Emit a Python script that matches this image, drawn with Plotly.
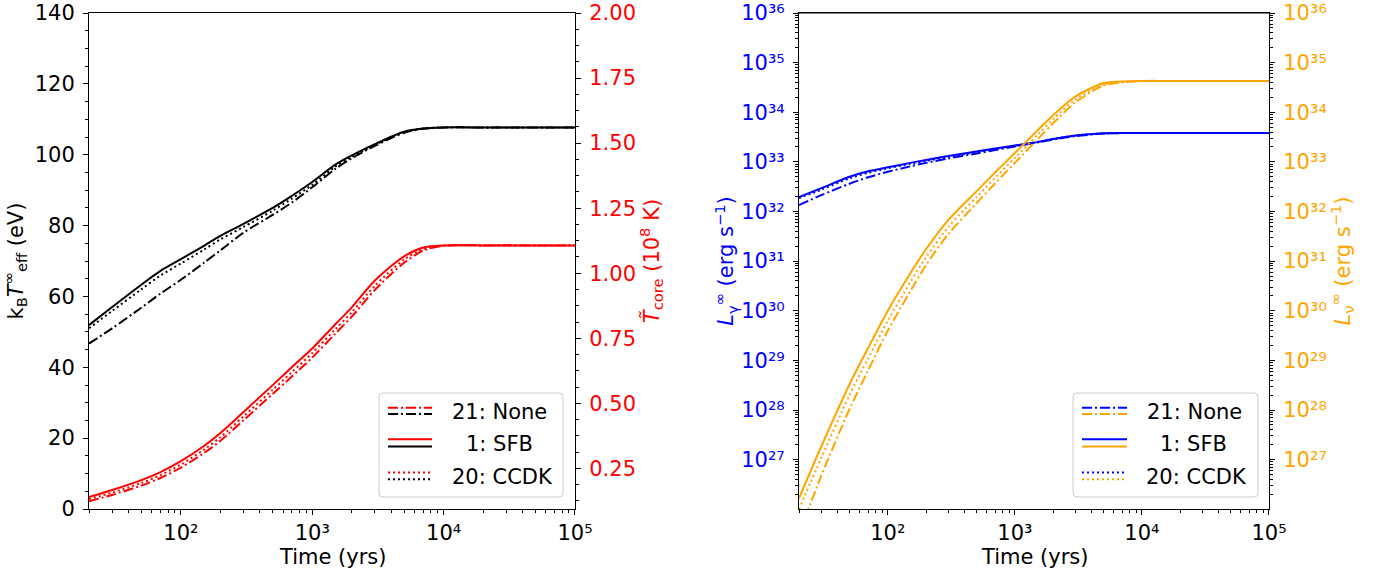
import plotly.graph_objects as go

# ---------------- data ----------------
time_yrs = [20, 30, 50, 70, 100, 150, 200, 300, 500, 700, 1000, 1500, 2000,
            3000, 5000, 7000, 10000, 20000, 50000, 100000]

# Left panel, left axis: k_B T_eff^inf (eV)
kTeff_none = [46.7, 51.0, 56.8, 60.8, 64.7, 69.5, 73.0, 78.0, 83.0, 86.5, 90.8,
              96.0, 99.0, 102.5, 106.2, 107.3, 107.7, 107.7, 107.7, 107.7]
kTeff_sfb = [51.9, 57.0, 63.3, 67.2, 70.5, 74.3, 77.1, 80.5, 85.0, 88.4, 92.3,
             97.2, 99.8, 103.0, 106.5, 107.4, 107.7, 107.7, 107.7, 107.7]
kTeff_ccdk = [51.0, 55.9, 62.0, 65.9, 69.3, 73.2, 76.1, 79.6, 84.2, 87.6, 91.5,
              96.6, 99.4, 102.8, 106.4, 107.4, 107.7, 107.7, 107.7, 107.7]

# Left panel, right axis: T_core (1e8 K)
Tcore_none = [0.124, 0.148, 0.184, 0.213, 0.253, 0.309, 0.356, 0.435, 0.536, 0.603,
              0.676, 0.768, 0.833, 0.936, 1.040, 1.087, 1.105, 1.107, 1.107, 1.107]
Tcore_sfb = [0.140, 0.167, 0.205, 0.236, 0.278, 0.336, 0.386, 0.467, 0.570, 0.639,
             0.711, 0.804, 0.869, 0.972, 1.065, 1.099, 1.107, 1.107, 1.107, 1.107]
Tcore_ccdk = [0.132, 0.157, 0.194, 0.224, 0.265, 0.322, 0.370, 0.450, 0.552, 0.620,
              0.693, 0.785, 0.850, 0.952, 1.052, 1.093, 1.106, 1.107, 1.107, 1.107]

# Right panel: log10 of luminosities (erg/s)
logLgamma_none = [32.13, 32.33, 32.56, 32.69, 32.80, 32.91, 32.98, 33.07, 33.17, 33.24,
                  33.31, 33.39, 33.45, 33.52, 33.57, 33.58, 33.58, 33.58, 33.58, 33.58]
logLgamma_sfb = [32.29, 32.47, 32.70, 32.81, 32.89, 32.98, 33.04, 33.12, 33.21, 33.27,
                 33.33, 33.40, 33.46, 33.53, 33.575, 33.58, 33.58, 33.58, 33.58, 33.58]
logLgamma_ccdk = [32.27, 32.44, 32.67, 32.78, 32.87, 32.96, 33.02, 33.10, 33.20, 33.26,
                  33.32, 33.40, 33.46, 33.53, 33.575, 33.58, 33.58, 33.58, 33.58, 33.58]

logLnu_none = [25.49, 26.68, 28.02, 28.80, 29.60, 30.39, 30.92, 31.55, 32.17, 32.57,
               32.98, 33.45, 33.78, 34.20, 34.54, 34.60, 34.63, 34.63, 34.63, 34.63]
logLnu_sfb = [26.22, 27.27, 28.52, 29.25, 30.00, 30.75, 31.24, 31.83, 32.41, 32.79,
              33.18, 33.63, 33.94, 34.32, 34.59, 34.62, 34.63, 34.63, 34.63, 34.63]
logLnu_ccdk = [26.00, 27.04, 28.30, 29.04, 29.80, 30.57, 31.08, 31.69, 32.29, 32.68,
               33.08, 33.54, 33.86, 34.26, 34.56, 34.61, 34.63, 34.63, 34.63, 34.63]

model_labels = ["21: None", "1: SFB", "20: CCDK"]
time_ticks_exp = [2, 3, 4, 5]
lum_ticks_exp = [27, 28, 29, 30, 31, 32, 33, 34, 35, 36]
x_title = "Time (yrs)"

# ---------------- styling ----------------
FONT = "DejaVu Sans"
FS = 21
RED, BLACK, BLUE, ORANGE = "#ff0000", "#000000", "#0000ff", "#ffa500"
DASHDOT = "10px,3px,2px,3px"
DOT = "2px,3px"
styles = [DASHDOT, "solid", DOT]
LW = 2

W, H = 1387, 574
ML, MR, MT, MB = 89, 118, 13, 65
PW, PH = W - ML - MR, H - MT - MB

SUP = str.maketrans("0123456789-", "⁰¹²³⁴⁵⁶⁷⁸⁹⁻")


def pow10_label(e):
    return "10" + str(e).translate(SUP)


def px(x):
    return (x - ML) / PW


def py(y):
    return (H - MB - y) / PH


fig = go.Figure()


def add_lines(series, color, yaxis, xaxis, transform=None):
    for name, ys, dash in zip(model_labels, series, styles):
        vals = [10.0 ** v for v in ys] if transform == "exp10" else ys
        fig.add_trace(go.Scatter(x=time_yrs, y=vals, mode="lines", name=name,
                                 line=dict(color=color, width=LW, dash=dash,
                                           shape="spline", smoothing=0.8),
                                 xaxis=xaxis, yaxis=yaxis, showlegend=False))


add_lines([kTeff_none, kTeff_sfb, kTeff_ccdk], BLACK, "y", "x")
add_lines([Tcore_none, Tcore_sfb, Tcore_ccdk], RED, "y2", "x")
add_lines([logLgamma_none, logLgamma_sfb, logLgamma_ccdk], BLUE, "y3", "x2", "exp10")
add_lines([logLnu_none, logLnu_sfb, logLnu_ccdk], ORANGE, "y4", "x2", "exp10")

tickfont = dict(family=FONT, size=FS, color=BLACK)
common = dict(showline=True, linecolor=BLACK, linewidth=1.1, ticks="outside",
              ticklen=5, tickwidth=1.1, tickcolor=BLACK, showgrid=False,
              zeroline=False, automargin=False, ticklabeloverflow="allow")


def minor_lin(d):
    return dict(ticks="outside", ticklen=3, tickwidth=0.8, tickcolor=BLACK,
                dtick=d, showgrid=False)


xlog = dict(type="log", range=[1.30103, 5.0001], tickmode="array",
            tickvals=[10.0 ** e for e in time_ticks_exp],
            ticktext=[pow10_label(e) for e in time_ticks_exp],
            tickfont=tickfont, mirror=True, ticklabelstandoff=0,
            minor=minor_lin("D1"), **common)

lum_vals = [10.0 ** e for e in lum_ticks_exp]
lum_text = [pow10_label(e) for e in lum_ticks_exp]

pos_left = px(575)
pos_right0 = px(799)
LOG_RANGE = [26.005, 36.0005]

fig.update_layout(
    width=W, height=H,
    margin=dict(l=ML, r=MR, t=MT, b=MB, pad=0),
    paper_bgcolor="white", plot_bgcolor="white",
    font=dict(family=FONT, size=FS, color=BLACK),
    showlegend=False,
    xaxis=dict(domain=[0, pos_left], anchor="y", **xlog),
    xaxis2=dict(domain=[pos_right0, 1], anchor="y3", **xlog),
    yaxis=dict(domain=[0, 1], anchor="x", range=[0, 140], dtick=20, tick0=0,
               tickfont=tickfont, ticklabelstandoff=4, minor=minor_lin(5),
               title=dict(text="k<sub>B</sub><i>T</i><sup>∞</sup><sub>eff</sub> (eV)",
                          font=dict(family=FONT, size=FS, color=BLACK), standoff=10),
               **common),
    yaxis2=dict(overlaying="y", anchor="x", side="right", range=[0.094, 2.0],
                dtick=0.25, tick0=0.25, tickformat=".2f", ticklabelstandoff=4,
                tickfont=dict(family=FONT, size=FS, color=RED),
                minor=minor_lin(0.0625),
                title=dict(text="<i>T̃</i><sub>core</sub> (10<sup>8</sup> K)",
                           font=dict(family=FONT, size=FS, color=RED), standoff=5),
                **common),
    yaxis3=dict(domain=[0, 1], anchor="x2", type="log", range=LOG_RANGE,
                tickmode="array", tickvals=lum_vals, ticktext=lum_text,
                ticklabelstandoff=4,
                tickfont=dict(family=FONT, size=FS, color=BLUE),
                minor=minor_lin("D1"),
                title=dict(text="<i>L</i><sub>γ</sub><sup>∞</sup> (erg s<sup>−1</sup>)",
                           font=dict(family=FONT, size=FS, color=BLUE), standoff=1),
                **common),
    yaxis4=dict(overlaying="y3", anchor="x2", side="right", type="log",
                range=LOG_RANGE, tickmode="array", tickvals=lum_vals, ticktext=lum_text,
                ticklabelstandoff=4,
                tickfont=dict(family=FONT, size=FS, color=ORANGE),
                minor=minor_lin("D1"),
                title=dict(text="<i>L</i><sub>ν</sub><sup>∞</sup> (erg s<sup>−1</sup>)",
                           font=dict(family=FONT, size=FS, color=ORANGE), standoff=5),
                **common),
)

# ---------------- frame top edge of right panel, x titles, custom legends ----------------
shapes = [dict(type="line", xref="paper", yref="paper", x0=pos_right0, x1=1,
               y0=1, y1=1, line=dict(color=BLACK, width=1.1), layer="above")]
annotations = [
    dict(text=x_title, xref="paper", yref="paper", x=px(332), y=py(557),
         xanchor="center", yanchor="middle", showarrow=False,
         font=dict(family=FONT, size=FS, color=BLACK)),
    dict(text=x_title, xref="paper", yref="paper", x=px(1034), y=py(557),
         xanchor="center", yanchor="middle", showarrow=False,
         font=dict(family=FONT, size=FS, color=BLACK)),
]


def rounded_box(x0, x1, y0, y1, r=4):
    rx, ry = r / PW, r / PH
    X0, X1, Y0, Y1 = px(x0), px(x1), py(y1), py(y0)
    path = (f"M {X0 + rx},{Y0} L {X1 - rx},{Y0} Q {X1},{Y0} {X1},{Y0 + ry} "
            f"L {X1},{Y1 - ry} Q {X1},{Y1} {X1 - rx},{Y1} L {X0 + rx},{Y1} "
            f"Q {X0},{Y1} {X0},{Y1 - ry} L {X0},{Y0 + ry} Q {X0},{Y0} {X0 + rx},{Y0} Z")
    return dict(type="path", path=path, xref="paper", yref="paper",
                fillcolor="rgba(255,255,255,0.85)", line=dict(color="#cccccc", width=1),
                layer="above")


legend_specs = [
    dict(box=(379, 563, 393, 497), sx=(388, 432), colors=(RED, BLACK),
         tx=[499, 499, 502]),
    dict(box=(1073, 1258, 393, 497), sx=(1082, 1127), colors=(BLUE, ORANGE),
         tx=[1194, 1193, 1196]),
]
row_top = [407.7, 439.3, 472.5]
row_bot = [414.0, 446.5, 479.3]
row_txt = [411.7, 444.3, 476.7]

for spec in legend_specs:
    shapes.append(rounded_box(*spec["box"]))
    for i, (label, dash) in enumerate(zip(model_labels, styles)):
        for yy, col in ((row_top[i], spec["colors"][0]), (row_bot[i], spec["colors"][1])):
            shapes.append(dict(type="line", xref="paper", yref="paper",
                               x0=px(spec["sx"][0]), x1=px(spec["sx"][1]),
                               y0=py(yy), y1=py(yy),
                               line=dict(color=col, width=LW, dash=dash), layer="above"))
        annotations.append(dict(text=label, xref="paper", yref="paper",
                                x=px(spec["tx"][i]), y=py(row_txt[i]),
                                xanchor="center", yanchor="middle", showarrow=False,
                                font=dict(family=FONT, size=FS, color=BLACK)))

fig.update_layout(shapes=shapes, annotations=annotations)

fig.write_html("out.html")
